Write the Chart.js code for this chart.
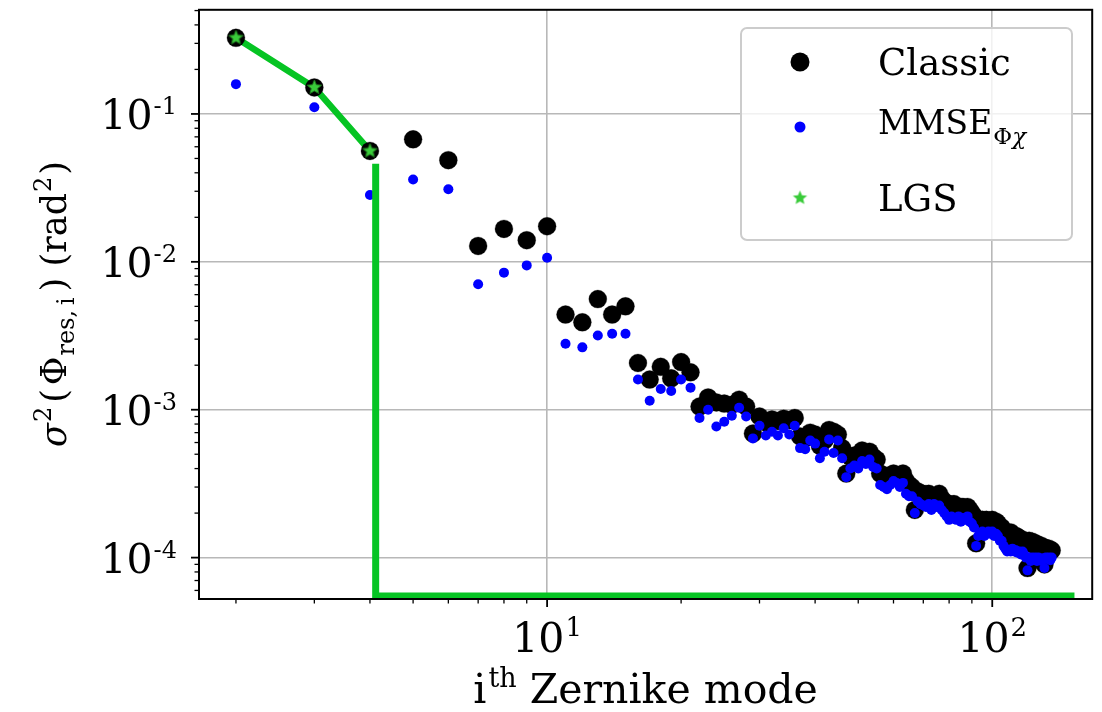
<!DOCTYPE html>
<html>
<head>
<meta charset="utf-8">
<title>Residual variance per Zernike mode</title>
<script src="https://cdn.jsdelivr.net/npm/chart.js@4.4.1/dist/chart.umd.min.js"></script>
<style>
    html, body { margin: 0; padding: 0; background: #fff; }
    #wrap { width: 1102px; height: 712px; }
</style>
</head>
<body>
<div id="wrap"><canvas id="varChart" width="1102" height="712"></canvas></div>
<script>
// Zernike mode index (piston excluded)
const modes = [
    2, 3, 4, 5, 6, 7, 8, 9, 10, 11, 12, 13, 14, 15, 16, 17, 18, 19, 20, 21,
    22, 23, 24, 25, 26, 27, 28, 29, 30, 31, 32, 33, 34, 35, 36, 37, 38, 39, 40, 41,
    42, 43, 44, 45, 46, 47, 48, 49, 50, 51, 52, 53, 54, 55, 56, 57, 58, 59, 60, 61,
    62, 63, 64, 65, 66, 67, 68, 69, 70, 71, 72, 73, 74, 75, 76, 77, 78, 79, 80, 81,
    82, 83, 84, 85, 86, 87, 88, 89, 90, 91, 92, 93, 94, 95, 96, 97, 98, 99, 100, 101,
    102, 103, 104, 105, 106, 107, 108, 109, 110, 111, 112, 113, 114, 115, 116, 117, 118, 119, 120, 121,
    122, 123, 124, 125, 126, 127, 128, 129, 130, 131, 132, 133, 134, 135, 136
];

// residual phase variance (rad^2), classic reconstructor
const classicVar = [
    0.327, 0.151, 0.0562, 0.0673, 0.0487, 0.0128, 0.0167, 0.0140, 0.0174, 0.0044,
    0.0039, 0.0056, 0.0044, 0.0050, 0.00207, 0.00160, 0.00195, 0.00163, 0.00210, 0.00179,
    0.00105, 0.00121, 0.00112, 0.00110, 0.00108, 0.00117, 0.00105, 0.00069, 0.00090, 0.00082,
    0.00086, 0.00084, 0.00087, 0.00085, 0.00088, 0.00066, 0.00064, 0.00070, 0.00068, 0.00057,
    0.00062, 0.00073, 0.00071, 0.00068, 0.00055, 0.00037, 0.00048, 0.00049, 0.00047, 0.00053,
    0.00050, 0.00052, 0.00048, 0.00046, 0.00037, 0.00036, 0.00034, 0.00036, 0.00037, 0.00036,
    0.00035, 0.00037, 0.00033, 0.00031, 0.00030, 0.00021, 0.00028, 0.00027, 0.00027, 0.00026,
    0.00027, 0.00025, 0.00026, 0.00026, 0.00027, 0.00025, 0.00024, 0.00022, 0.00023, 0.00022,
    0.00023, 0.00022, 0.00021, 0.00022, 0.00022, 0.00021, 0.00022, 0.00021, 0.00020, 0.00019,
    0.000125, 0.00017, 0.00018, 0.00018, 0.00017, 0.00018, 0.000175, 0.00017, 0.00018, 0.00017,
    0.000175, 0.00017, 0.00016, 0.00016, 0.000148, 0.00014, 0.000145, 0.00014, 0.000148, 0.00014,
    0.000135, 0.00014, 0.000138, 0.000135, 0.00013, 0.000132, 0.000128, 0.000125, 0.000085, 0.00013,
    0.000125, 0.000128, 0.000122, 0.000125, 0.00012, 0.000122, 0.000118, 0.00012, 0.000117, 0.00009,
    0.000116, 0.000113, 0.000115, 0.00011, 0.000112
];

// residual phase variance (rad^2), MMSE reconstructor
const mmseVar = [
    0.159, 0.111, 0.0283, 0.036, 0.031, 0.00706, 0.00845, 0.00946, 0.01067, 0.00279,
    0.00264, 0.00318, 0.00326, 0.00326, 0.0016, 0.00115, 0.00138, 0.00134, 0.0016, 0.00141,
    0.00088, 0.00100, 0.00077, 0.00083, 0.00091, 0.00103, 0.00090, 0.00064, 0.00078, 0.00067,
    0.00071, 0.00067, 0.00075, 0.00068, 0.00078, 0.00055, 0.00054, 0.00062, 0.00059, 0.00047,
    0.00052, 0.00063, 0.00051, 0.00062, 0.00047, 0.00035, 0.00040, 0.00042, 0.00040, 0.00045,
    0.00043, 0.00046, 0.00041, 0.00040, 0.00031, 0.00030, 0.00029, 0.00031, 0.00033, 0.00032,
    0.00030, 0.00032, 0.00027, 0.00026, 0.00026, 0.00020, 0.00024, 0.00023, 0.000225, 0.00022,
    0.00023, 0.00021, 0.00023, 0.00022, 0.000225, 0.00021, 0.00020, 0.00019, 0.00018, 0.00019,
    0.000185, 0.00018, 0.00019, 0.000175, 0.000185, 0.00018, 0.00019, 0.000175, 0.00017, 0.00016,
    0.00012, 0.00014, 0.000145, 0.00015, 0.00014, 0.000145, 0.00015, 0.000145, 0.00015, 0.00014,
    0.000145, 0.00014, 0.00013, 0.00013, 0.00012, 0.000115, 0.00011, 0.000113, 0.00011, 0.000115,
    0.00011, 0.000112, 0.000108, 0.00011, 0.000105, 0.00011, 0.000105, 0.0001, 0.000082, 0.0001,
    0.000095, 0.0001, 0.000098, 0.0001, 0.000095, 0.0001, 0.000097, 0.000095, 0.000099, 0.000085,
    0.0001, 0.000098, 0.0001, 0.000096, 0.0001
];

// modes corrected by the laser guide star
const lgsModes = [2, 3, 4];
const lgsVar = [0.327, 0.151, 0.0562];

// LGS cut-off line: drops at the last LGS mode, runs along the floor
const cutModes = [4.12, 4.12, 153];
const cutVar = [0.046, 5.5e-5, 5.5e-5];

// axis ranges and decade tick labels (10^exp)
const xRange = [1.652, 167.7];
const yRange = [5.25e-5, 0.506];
const xTickExps = [1, 2];
const yTickExps = [-4, -3, -2, -1];

const SERIF = '"DejaVu Serif", serif';
const lineGreen = '#06c423';
const starGreen = '#3acb3a';

function toPoints(xs, ys) {
    return xs.map((x, i) => ({ x: x, y: ys[i] }));
}

// filled five point star used as the LGS marker
function starMarker(r, fill, edge) {
    const c = document.createElement('canvas');
    const s = Math.ceil(r * 2 + 4);
    c.width = s;
    c.height = s;
    const g = c.getContext('2d');
    g.beginPath();
    for (let i = 0; i < 10; i++) {
        const rr = i % 2 ? r * 0.45 : r;
        const a = -Math.PI / 2 + i * Math.PI / 5;
        g.lineTo(s / 2 + rr * Math.cos(a), s / 2 + rr * Math.sin(a));
    }
    g.closePath();
    g.fillStyle = fill;
    g.fill();
    if (edge) {
        g.strokeStyle = edge;
        g.lineWidth = 1;
        g.stroke();
    }
    return c;
}
const starPlot = starMarker(7.5, starGreen, '#1f7a1f');
const starLegend = starMarker(7.5, starGreen, null);

// decade + minor ticks between min and max
function logTicks(min, max, majors) {
    const ticks = [];
    for (let e = Math.floor(Math.log10(min)); e <= Math.ceil(Math.log10(max)); e++) {
        for (let m = 1; m <= 9; m++) {
            const v = m * Math.pow(10, e);
            if (v >= min && v <= max) {
                ticks.push({ value: v, major: m === 1 && majors.includes(e) });
            }
        }
    }
    return ticks;
}

// draws pieces of text one after another (for super/subscripts)
function drawRuns(ctx, runs, x, y, align) {
    let total = 0;
    runs.forEach(r => {
        ctx.font = r.font;
        r.w = ctx.measureText(r.t).width;
        total += r.w + (r.gap || 0);
    });
    let cx = x;
    if (align === 'center') cx = x - total / 2;
    if (align === 'right') cx = x - total;
    ctx.textAlign = 'left';
    ctx.textBaseline = 'alphabetic';
    runs.forEach(r => {
        ctx.font = r.font;
        ctx.fillText(r.t, cx, y + (r.dy || 0));
        cx += r.w + (r.gap || 0);
    });
}

function decadeLabel(exp, size, supSize, rise) {
    return [
        { t: '10', font: size + 'px ' + SERIF, gap: 1 },
        { t: String(exp), font: supSize + 'px ' + SERIF, dy: -rise }
    ];
}

// frame, tick marks, tick labels, axis titles and legend
const axesDecor = {
    id: 'axesDecor',
    afterDraw(chart) {
        const ctx = chart.ctx;
        const area = chart.chartArea;
        const xs = chart.scales.x;
        const ys = chart.scales.y;
        ctx.save();

        // tick marks (outside)
        ctx.strokeStyle = '#000';
        xs.ticks.forEach(t => {
            const px = xs.getPixelForValue(t.value);
            ctx.lineWidth = t.major ? 1.8 : 1.3;
            ctx.beginPath();
            ctx.moveTo(px, area.bottom);
            ctx.lineTo(px, area.bottom + (t.major ? 8 : 4.5));
            ctx.stroke();
        });
        ys.ticks.forEach(t => {
            const py = ys.getPixelForValue(t.value);
            ctx.lineWidth = t.major ? 1.8 : 1.3;
            ctx.beginPath();
            ctx.moveTo(area.left, py);
            ctx.lineTo(area.left - (t.major ? 8 : 4.5), py);
            ctx.stroke();
        });

        // frame
        ctx.lineWidth = 2;
        ctx.strokeRect(area.left, area.top, area.right - area.left, area.bottom - area.top);

        // tick labels
        ctx.fillStyle = '#000';
        yTickExps.forEach(e => {
            const py = ys.getPixelForValue(Math.pow(10, e));
            drawRuns(ctx, decadeLabel(e, 41, 24, 15), area.left - 22, py + 15, 'right');
        });
        xTickExps.forEach(e => {
            const px = xs.getPixelForValue(Math.pow(10, e));
            drawRuns(ctx, decadeLabel(e, 41, 26, 16), px, area.bottom + 53, 'center');
        });

        // x title
        drawRuns(ctx, [
            { t: 'i', font: '41px ' + SERIF, gap: 2 },
            { t: 'th', font: '27px ' + SERIF, dy: -16 },
            { t: ' Zernike mode', font: '41px ' + SERIF }
        ], (area.left + area.right) / 2, 703, 'center');

        // y title, rotated
        ctx.save();
        ctx.translate(66, 304);
        ctx.rotate(-Math.PI / 2);
        drawRuns(ctx, [
            { t: '\u03c3', font: 'italic 35px ' + SERIF, gap: 1 },
            { t: '2', font: '24px ' + SERIF, dy: -15, gap: 4 },
            { t: '(', font: '35px ' + SERIF, gap: 4 },
            { t: '\u03a6', font: '35px ' + SERIF, gap: 1 },
            { t: 'res,\u2009i', font: '24px ' + SERIF, dy: 8, gap: 6 },
            { t: ')', font: '35px ' + SERIF },
            { t: ' (rad', font: '35px ' + SERIF, gap: 1 },
            { t: '2', font: '24px ' + SERIF, dy: -15, gap: 2 },
            { t: ')', font: '35px ' + SERIF }
        ], 0, 0, 'center');
        ctx.restore();

        // legend box
        const bx = 741, by = 28, bw = 331, bh = 212, br = 6;
        ctx.beginPath();
        ctx.roundRect(bx, by, bw, bh, br);
        ctx.fillStyle = 'rgba(255,255,255,0.8)';
        ctx.fill();
        ctx.strokeStyle = '#cccccc';
        ctx.lineWidth = 2;
        ctx.stroke();

        const mx = 800, tx = 878;
        ctx.fillStyle = '#000';
        ctx.beginPath();
        ctx.arc(mx, 62, 9.5, 0, Math.PI * 2);
        ctx.fill();
        ctx.fillStyle = '#0000ff';
        ctx.beginPath();
        ctx.arc(mx, 127, 5.5, 0, Math.PI * 2);
        ctx.fill();
        ctx.drawImage(starLegend, mx - starLegend.width / 2, 198 - starLegend.height / 2);

        ctx.fillStyle = '#000';
        drawRuns(ctx, [{ t: 'Classic', font: '37px ' + SERIF }], tx, 75, 'left');
        drawRuns(ctx, [
            { t: 'MMSE', font: '33px ' + SERIF, gap: 1 },
            { t: '\u03a6', font: '23px ' + SERIF, dy: 10 },
            { t: '\u03c7', font: 'italic 23px ' + SERIF, dy: 10 }
        ], tx, 134, 'left');
        drawRuns(ctx, [{ t: 'LGS', font: '37px ' + SERIF }], tx, 211, 'left');

        ctx.restore();
    }
};

const gridColor = c => (c.tick && c.tick.major ? '#b8b8b8' : 'rgba(0,0,0,0)');

const varChart = new Chart(document.getElementById('varChart'), {
    type: 'scatter',
    data: {
        datasets: [
            {
                label: 'LGS',
                data: toPoints(lgsModes, lgsVar),
                pointStyle: starPlot,
                pointRadius: 7,
                order: 0
            },
            {
                label: 'LGS cut-off',
                data: toPoints(cutModes, cutVar),
                showLine: true,
                borderColor: lineGreen,
                borderWidth: 7,
                pointRadius: 0,
                borderCapStyle: 'butt',
                order: 1
            },
            {
                label: 'MMSE',
                data: toPoints(modes, mmseVar),
                backgroundColor: '#0000ff',
                borderWidth: 0,
                pointRadius: 5,
                order: 2
            },
            {
                label: 'Classic',
                data: toPoints(modes, classicVar),
                backgroundColor: '#000000',
                borderColor: 'rgba(0,0,0,0.35)',
                borderWidth: 0.8,
                pointRadius: 9,
                order: 3
            },
            {
                label: 'LGS line',
                data: toPoints(lgsModes, lgsVar),
                showLine: true,
                borderColor: lineGreen,
                borderWidth: 6.5,
                pointRadius: 0,
                order: 4
            }
        ]
    },
    options: {
        responsive: false,
        animation: false,
        layout: { padding: { left: 0, top: 5, right: 9, bottom: 0 } },
        plugins: {
            legend: { display: false },
            tooltip: { enabled: false }
        },
        scales: {
            x: {
                type: 'logarithmic',
                min: xRange[0],
                max: xRange[1],
                afterBuildTicks: s => { s.ticks = logTicks(s.min, s.max, xTickExps); },
                afterFit: s => { s.height = 113; },
                ticks: { display: false },
                grid: { color: gridColor, lineWidth: 1.6, drawTicks: false },
                border: { display: false }
            },
            y: {
                type: 'logarithmic',
                min: yRange[0],
                max: yRange[1],
                afterBuildTicks: s => { s.ticks = logTicks(s.min, s.max, yTickExps); },
                afterFit: s => { s.width = 199; },
                ticks: { display: false },
                grid: { color: gridColor, lineWidth: 1.6, drawTicks: false },
                border: { display: false }
            }
        }
    },
    plugins: [axesDecor]
});
</script>
</body>
</html>
